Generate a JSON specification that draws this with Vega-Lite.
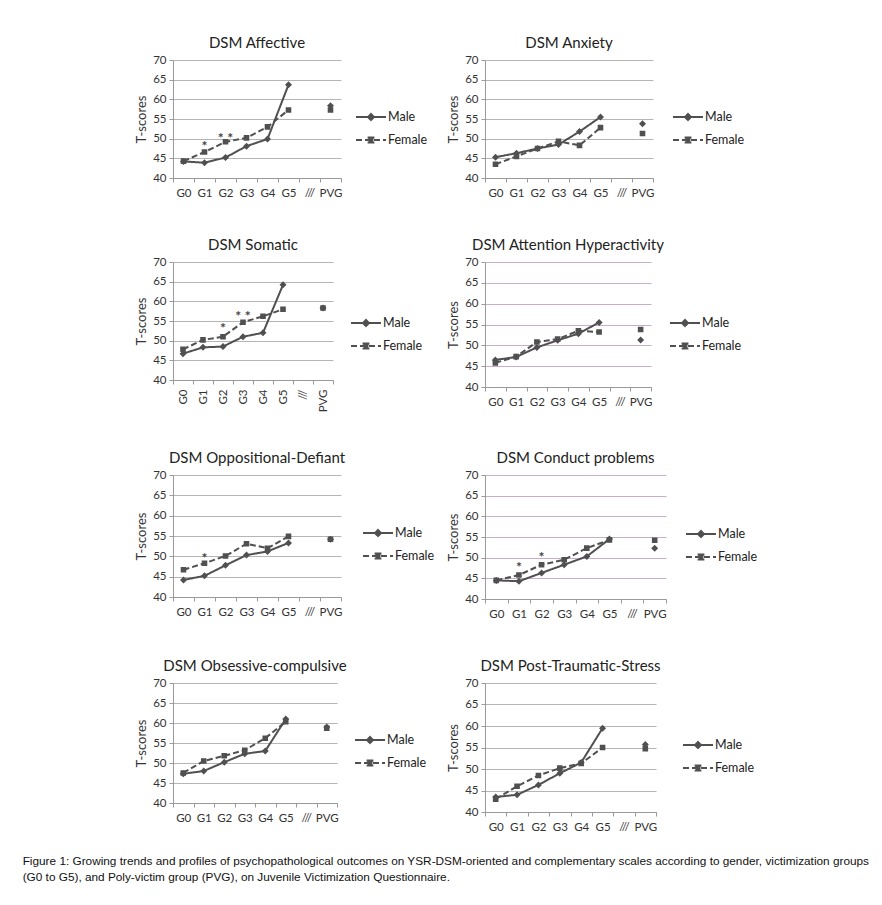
{
  "$schema": "https://vega.github.io/schema/vega-lite/v6.json",
  "background": "white",
  "padding": {"left": 22, "top": 36, "right": 4, "bottom": 4},
  "data": {"values": [
    {"s":"Affective","g":"G0","sex":"Male","v":44.2},{"s":"Affective","g":"G1","sex":"Male","v":43.9},{"s":"Affective","g":"G2","sex":"Male","v":45.2},{"s":"Affective","g":"G3","sex":"Male","v":48.1},{"s":"Affective","g":"G4","sex":"Male","v":49.9},{"s":"Affective","g":"G5","sex":"Male","v":63.7},{"s":"Affective","g":"PVG","sex":"Male","v":58.4},
    {"s":"Affective","g":"G0","sex":"Female","v":44.3},{"s":"Affective","g":"G1","sex":"Female","v":46.6},{"s":"Affective","g":"G2","sex":"Female","v":49.2},{"s":"Affective","g":"G3","sex":"Female","v":50.2},{"s":"Affective","g":"G4","sex":"Female","v":53.0},{"s":"Affective","g":"G5","sex":"Female","v":57.3},{"s":"Affective","g":"PVG","sex":"Female","v":57.3},
    {"s":"Affective","g":"G1","sig":"*","v":49.2},{"s":"Affective","g":"G2","sig":"* *","v":51.1},
    {"s":"Anxiety","g":"G0","sex":"Male","v":45.3},{"s":"Anxiety","g":"G1","sex":"Male","v":46.3},{"s":"Anxiety","g":"G2","sex":"Male","v":47.5},{"s":"Anxiety","g":"G3","sex":"Male","v":48.5},{"s":"Anxiety","g":"G4","sex":"Male","v":51.8},{"s":"Anxiety","g":"G5","sex":"Male","v":55.5},{"s":"Anxiety","g":"PVG","sex":"Male","v":53.8},
    {"s":"Anxiety","g":"G0","sex":"Female","v":43.5},{"s":"Anxiety","g":"G1","sex":"Female","v":45.5},{"s":"Anxiety","g":"G2","sex":"Female","v":47.5},{"s":"Anxiety","g":"G3","sex":"Female","v":49.3},{"s":"Anxiety","g":"G4","sex":"Female","v":48.3},{"s":"Anxiety","g":"G5","sex":"Female","v":52.8},{"s":"Anxiety","g":"PVG","sex":"Female","v":51.3},
    {"s":"Somatic","g":"G0","sex":"Male","v":46.7},{"s":"Somatic","g":"G1","sex":"Male","v":48.3},{"s":"Somatic","g":"G2","sex":"Male","v":48.5},{"s":"Somatic","g":"G3","sex":"Male","v":51.0},{"s":"Somatic","g":"G4","sex":"Male","v":52.0},{"s":"Somatic","g":"G5","sex":"Male","v":64.2},{"s":"Somatic","g":"PVG","sex":"Male","v":58.3},
    {"s":"Somatic","g":"G0","sex":"Female","v":47.8},{"s":"Somatic","g":"G1","sex":"Female","v":50.2},{"s":"Somatic","g":"G2","sex":"Female","v":51.0},{"s":"Somatic","g":"G3","sex":"Female","v":54.7},{"s":"Somatic","g":"G4","sex":"Female","v":56.2},{"s":"Somatic","g":"G5","sex":"Female","v":58.0},{"s":"Somatic","g":"PVG","sex":"Female","v":58.3},
    {"s":"Somatic","g":"G2","sig":"*","v":54.2},{"s":"Somatic","g":"G3","sig":"* *","v":57.2},
    {"s":"Attention","g":"G0","sex":"Male","v":46.5},{"s":"Attention","g":"G1","sex":"Male","v":47.2},{"s":"Attention","g":"G2","sex":"Male","v":49.5},{"s":"Attention","g":"G3","sex":"Male","v":51.2},{"s":"Attention","g":"G4","sex":"Male","v":52.8},{"s":"Attention","g":"G5","sex":"Male","v":55.5},{"s":"Attention","g":"PVG","sex":"Male","v":51.3},
    {"s":"Attention","g":"G0","sex":"Female","v":45.8},{"s":"Attention","g":"G1","sex":"Female","v":47.3},{"s":"Attention","g":"G2","sex":"Female","v":50.8},{"s":"Attention","g":"G3","sex":"Female","v":51.5},{"s":"Attention","g":"G4","sex":"Female","v":53.5},{"s":"Attention","g":"G5","sex":"Female","v":53.2},{"s":"Attention","g":"PVG","sex":"Female","v":53.8},
    {"s":"Oppositional","g":"G0","sex":"Male","v":44.2},{"s":"Oppositional","g":"G1","sex":"Male","v":45.2},{"s":"Oppositional","g":"G2","sex":"Male","v":47.8},{"s":"Oppositional","g":"G3","sex":"Male","v":50.3},{"s":"Oppositional","g":"G4","sex":"Male","v":51.2},{"s":"Oppositional","g":"G5","sex":"Male","v":53.3},{"s":"Oppositional","g":"PVG","sex":"Male","v":54.2},
    {"s":"Oppositional","g":"G0","sex":"Female","v":46.7},{"s":"Oppositional","g":"G1","sex":"Female","v":48.3},{"s":"Oppositional","g":"G2","sex":"Female","v":50.1},{"s":"Oppositional","g":"G3","sex":"Female","v":53.1},{"s":"Oppositional","g":"G4","sex":"Female","v":52.0},{"s":"Oppositional","g":"G5","sex":"Female","v":54.9},{"s":"Oppositional","g":"PVG","sex":"Female","v":54.2},
    {"s":"Oppositional","g":"G1","sig":"*","v":50.5},
    {"s":"Conduct","g":"G0","sex":"Male","v":44.5},{"s":"Conduct","g":"G1","sex":"Male","v":44.3},{"s":"Conduct","g":"G2","sex":"Male","v":46.3},{"s":"Conduct","g":"G3","sex":"Male","v":48.3},{"s":"Conduct","g":"G4","sex":"Male","v":50.3},{"s":"Conduct","g":"G5","sex":"Male","v":54.5},{"s":"Conduct","g":"PVG","sex":"Male","v":52.3},
    {"s":"Conduct","g":"G0","sex":"Female","v":44.5},{"s":"Conduct","g":"G1","sex":"Female","v":45.8},{"s":"Conduct","g":"G2","sex":"Female","v":48.3},{"s":"Conduct","g":"G3","sex":"Female","v":49.5},{"s":"Conduct","g":"G4","sex":"Female","v":52.3},{"s":"Conduct","g":"G5","sex":"Female","v":54.3},{"s":"Conduct","g":"PVG","sex":"Female","v":54.2},
    {"s":"Conduct","g":"G1","sig":"*","v":48.8},{"s":"Conduct","g":"G2","sig":"*","v":51.1},
    {"s":"Obsessive","g":"G0","sex":"Male","v":47.3},{"s":"Obsessive","g":"G1","sex":"Male","v":48.0},{"s":"Obsessive","g":"G2","sex":"Male","v":50.2},{"s":"Obsessive","g":"G3","sex":"Male","v":52.3},{"s":"Obsessive","g":"G4","sex":"Male","v":53.0},{"s":"Obsessive","g":"G5","sex":"Male","v":61.0},{"s":"Obsessive","g":"PVG","sex":"Male","v":59.0},
    {"s":"Obsessive","g":"G0","sex":"Female","v":47.5},{"s":"Obsessive","g":"G1","sex":"Female","v":50.5},{"s":"Obsessive","g":"G2","sex":"Female","v":51.8},{"s":"Obsessive","g":"G3","sex":"Female","v":53.2},{"s":"Obsessive","g":"G4","sex":"Female","v":56.2},{"s":"Obsessive","g":"G5","sex":"Female","v":60.3},{"s":"Obsessive","g":"PVG","sex":"Female","v":58.7},
    {"s":"PTSD","g":"G0","sex":"Male","v":43.5},{"s":"PTSD","g":"G1","sex":"Male","v":44.0},{"s":"PTSD","g":"G2","sex":"Male","v":46.3},{"s":"PTSD","g":"G3","sex":"Male","v":49.0},{"s":"PTSD","g":"G4","sex":"Male","v":51.5},{"s":"PTSD","g":"G5","sex":"Male","v":59.5},{"s":"PTSD","g":"PVG","sex":"Male","v":55.7},
    {"s":"PTSD","g":"G0","sex":"Female","v":43.0},{"s":"PTSD","g":"G1","sex":"Female","v":46.0},{"s":"PTSD","g":"G2","sex":"Female","v":48.5},{"s":"PTSD","g":"G3","sex":"Female","v":50.2},{"s":"PTSD","g":"G4","sex":"Female","v":51.3},{"s":"PTSD","g":"G5","sex":"Female","v":55.0},{"s":"PTSD","g":"PVG","sex":"Female","v":54.7}
  ]},
  "columns": 2,
  "spacing": {"row": 39, "column": 12},
  "resolve": {"scale": {"strokeDash": "independent", "shape": "independent"}, "legend": {"strokeDash": "independent", "shape": "independent"}},
  "title": {
    "text": ["Figure 1: Growing trends and profiles of psychopathological outcomes on YSR-DSM-oriented and complementary scales according to gender, victimization groups", "(G0 to G5), and Poly-victim group (PVG), on Juvenile Victimization Questionnaire."],
    "orient": "bottom", "anchor": "start", "frame": "bounds",
    "font": "Liberation Sans", "fontSize": 11.8, "fontWeight": "normal", "color": "#111", "lineHeight": 16, "dx": -113, "offset": 23
  },
  "concat": [
    {
      "title": "DSM Affective", "width": 168, "height": 118,
      "transform": [{"filter": "datum.s === 'Affective'"}],
      "encoding": {
        "x": {"field": "g", "type": "ordinal", "scale": {"type": "band", "domain": ["G0","G1","G2","G3","G4","G5","///","PVG"], "paddingInner": 0, "paddingOuter": 0}, "axis": {"title": null, "tickBand": "extent", "labelAngle": 0, "grid": false}},
        "y": {"field": "v", "type": "quantitative", "scale": {"domain": [40, 70], "nice": false, "zero": false}, "axis": {"title": "T-scores", "values": [40,45,50,55,60,65,70]}}
      },
      "layer": [
        {"transform": [{"filter": "datum.sex && datum.g !== 'PVG'"}], "mark": {"type": "line", "strokeWidth": 2, "color": "#505050"},
         "encoding": {"strokeDash": {"field": "sex", "type": "nominal", "scale": {"domain": ["Male","Female"], "range": [[1,0],[6,3]]}, "legend": {"orient": "none", "legendX": 182, "legendY": 41}}}},
        {"transform": [{"filter": "datum.sex"}], "mark": {"type": "point", "filled": true, "opacity": 1, "color": "#505050", "strokeWidth": 0, "size": 1225},
         "encoding": {"shape": {"field": "sex", "type": "nominal", "scale": {"domain": ["Male","Female"], "range": ["M-1,0H1M0,-0.2L0.2,0L0,0.2L-0.2,0Z", "M-1,0H1M-0.16,-0.16H0.16V0.16H-0.16Z"]}, "legend": null}}},
        {"transform": [{"filter": "datum.sig"}], "mark": {"type": "text", "fontSize": 14, "fontWeight": "bold", "color": "#444", "dy": 5},
         "encoding": {"text": {"field": "sig"}}}
      ]
    },
    {
      "title": "DSM Anxiety", "width": 168, "height": 118,
      "transform": [{"filter": "datum.s === 'Anxiety'"}],
      "encoding": {
        "x": {"field": "g", "type": "ordinal", "scale": {"type": "band", "domain": ["G0","G1","G2","G3","G4","G5","///","PVG"], "paddingInner": 0, "paddingOuter": 0}, "axis": {"title": null, "tickBand": "extent", "labelAngle": 0, "grid": false}},
        "y": {"field": "v", "type": "quantitative", "scale": {"domain": [40, 70], "nice": false, "zero": false}, "axis": {"title": "T-scores", "values": [40,45,50,55,60,65,70]}}
      },
      "layer": [
        {"transform": [{"filter": "datum.sex && datum.g !== 'PVG'"}], "mark": {"type": "line", "strokeWidth": 2, "color": "#505050"},
         "encoding": {"strokeDash": {"field": "sex", "type": "nominal", "scale": {"domain": ["Male","Female"], "range": [[1,0],[6,3]]}, "legend": {"orient": "none", "legendX": 187, "legendY": 41}}}},
        {"transform": [{"filter": "datum.sex"}], "mark": {"type": "point", "filled": true, "opacity": 1, "color": "#505050", "strokeWidth": 0, "size": 1225},
         "encoding": {"shape": {"field": "sex", "type": "nominal", "scale": {"domain": ["Male","Female"], "range": ["M-1,0H1M0,-0.2L0.2,0L0,0.2L-0.2,0Z", "M-1,0H1M-0.16,-0.16H0.16V0.16H-0.16Z"]}, "legend": null}}}
      ]
    },
    {
      "title": "DSM Somatic", "width": 160, "height": 118,
      "transform": [{"filter": "datum.s === 'Somatic'"}],
      "encoding": {
        "x": {"field": "g", "type": "ordinal", "scale": {"type": "band", "domain": ["G0","G1","G2","G3","G4","G5","///","PVG"], "paddingInner": 0, "paddingOuter": 0}, "axis": {"title": null, "tickBand": "extent", "labelAngle": 270, "grid": false}},
        "y": {"field": "v", "type": "quantitative", "scale": {"domain": [40, 70], "nice": false, "zero": false}, "axis": {"title": "T-scores", "values": [40,45,50,55,60,65,70]}}
      },
      "layer": [
        {"transform": [{"filter": "datum.sex && datum.g !== 'PVG'"}], "mark": {"type": "line", "strokeWidth": 2, "color": "#505050"},
         "encoding": {"strokeDash": {"field": "sex", "type": "nominal", "scale": {"domain": ["Male","Female"], "range": [[1,0],[6,3]]}, "legend": {"orient": "none", "legendX": 177, "legendY": 45}}}},
        {"transform": [{"filter": "datum.sex"}], "mark": {"type": "point", "filled": true, "opacity": 1, "color": "#505050", "strokeWidth": 0, "size": 1225},
         "encoding": {"shape": {"field": "sex", "type": "nominal", "scale": {"domain": ["Male","Female"], "range": ["M-1,0H1M0,-0.2L0.2,0L0,0.2L-0.2,0Z", "M-1,0H1M-0.16,-0.16H0.16V0.16H-0.16Z"]}, "legend": null}}},
        {"transform": [{"filter": "datum.sig"}], "mark": {"type": "text", "fontSize": 14, "fontWeight": "bold", "color": "#444", "dy": 5},
         "encoding": {"text": {"field": "sig"}}}
      ]
    },
    {
      "title": "DSM Attention Hyperactivity", "width": 166, "height": 125,
      "transform": [{"filter": "datum.s === 'Attention'"}],
      "encoding": {
        "x": {"field": "g", "type": "ordinal", "scale": {"type": "band", "domain": ["G0","G1","G2","G3","G4","G5","///","PVG"], "paddingInner": 0, "paddingOuter": 0}, "axis": {"title": null, "tickBand": "extent", "labelAngle": 0, "grid": false}},
        "y": {"field": "v", "type": "quantitative", "scale": {"domain": [40, 70], "nice": false, "zero": false}, "axis": {"title": "T-scores", "values": [40,45,50,55,60,65,70], "gridColor": "#c9aec9"}}
      },
      "layer": [
        {"transform": [{"filter": "datum.sex && datum.g !== 'PVG'"}], "mark": {"type": "line", "strokeWidth": 2, "color": "#505050"},
         "encoding": {"strokeDash": {"field": "sex", "type": "nominal", "scale": {"domain": ["Male","Female"], "range": [[1,0],[6,3]]}, "legend": {"orient": "none", "legendX": 184, "legendY": 45}}}},
        {"transform": [{"filter": "datum.sex"}], "mark": {"type": "point", "filled": true, "opacity": 1, "color": "#505050", "strokeWidth": 0, "size": 1225},
         "encoding": {"shape": {"field": "sex", "type": "nominal", "scale": {"domain": ["Male","Female"], "range": ["M-1,0H1M0,-0.2L0.2,0L0,0.2L-0.2,0Z", "M-1,0H1M-0.16,-0.16H0.16V0.16H-0.16Z"]}, "legend": null}}}
      ]
    },
    {
      "title": "DSM Oppositional-Defiant", "width": 168, "height": 122,
      "transform": [{"filter": "datum.s === 'Oppositional'"}],
      "encoding": {
        "x": {"field": "g", "type": "ordinal", "scale": {"type": "band", "domain": ["G0","G1","G2","G3","G4","G5","///","PVG"], "paddingInner": 0, "paddingOuter": 0}, "axis": {"title": null, "tickBand": "extent", "labelAngle": 0, "grid": false}},
        "y": {"field": "v", "type": "quantitative", "scale": {"domain": [40, 70], "nice": false, "zero": false}, "axis": {"title": "T-scores", "values": [40,45,50,55,60,65,70]}}
      },
      "layer": [
        {"transform": [{"filter": "datum.sex && datum.g !== 'PVG'"}], "mark": {"type": "line", "strokeWidth": 2, "color": "#505050"},
         "encoding": {"strokeDash": {"field": "sex", "type": "nominal", "scale": {"domain": ["Male","Female"], "range": [[1,0],[6,3]]}, "legend": {"orient": "none", "legendX": 189, "legendY": 42}}}},
        {"transform": [{"filter": "datum.sex"}], "mark": {"type": "point", "filled": true, "opacity": 1, "color": "#505050", "strokeWidth": 0, "size": 1225},
         "encoding": {"shape": {"field": "sex", "type": "nominal", "scale": {"domain": ["Male","Female"], "range": ["M-1,0H1M0,-0.2L0.2,0L0,0.2L-0.2,0Z", "M-1,0H1M-0.16,-0.16H0.16V0.16H-0.16Z"]}, "legend": null}}},
        {"transform": [{"filter": "datum.sig"}], "mark": {"type": "text", "fontSize": 14, "fontWeight": "bold", "color": "#444", "dy": 5},
         "encoding": {"text": {"field": "sig"}}}
      ]
    },
    {
      "title": "DSM Conduct problems", "width": 181, "height": 124,
      "transform": [{"filter": "datum.s === 'Conduct'"}],
      "encoding": {
        "x": {"field": "g", "type": "ordinal", "scale": {"type": "band", "domain": ["G0","G1","G2","G3","G4","G5","///","PVG"], "paddingInner": 0, "paddingOuter": 0}, "axis": {"title": null, "tickBand": "extent", "labelAngle": 0, "grid": false}},
        "y": {"field": "v", "type": "quantitative", "scale": {"domain": [40, 70], "nice": false, "zero": false}, "axis": {"title": "T-scores", "values": [40,45,50,55,60,65,70], "gridColor": "#c9aec9"}}
      },
      "layer": [
        {"transform": [{"filter": "datum.sex && datum.g !== 'PVG'"}], "mark": {"type": "line", "strokeWidth": 2, "color": "#505050"},
         "encoding": {"strokeDash": {"field": "sex", "type": "nominal", "scale": {"domain": ["Male","Female"], "range": [[1,0],[6,3]]}, "legend": {"orient": "none", "legendX": 200, "legendY": 43}}}},
        {"transform": [{"filter": "datum.sex"}], "mark": {"type": "point", "filled": true, "opacity": 1, "color": "#505050", "strokeWidth": 0, "size": 1225},
         "encoding": {"shape": {"field": "sex", "type": "nominal", "scale": {"domain": ["Male","Female"], "range": ["M-1,0H1M0,-0.2L0.2,0L0,0.2L-0.2,0Z", "M-1,0H1M-0.16,-0.16H0.16V0.16H-0.16Z"]}, "legend": null}}},
        {"transform": [{"filter": "datum.sig"}], "mark": {"type": "text", "fontSize": 14, "fontWeight": "bold", "color": "#444", "dy": 5},
         "encoding": {"text": {"field": "sig"}}}
      ]
    },
    {
      "title": "DSM Obsessive-compulsive", "width": 164, "height": 120,
      "transform": [{"filter": "datum.s === 'Obsessive'"}],
      "encoding": {
        "x": {"field": "g", "type": "ordinal", "scale": {"type": "band", "domain": ["G0","G1","G2","G3","G4","G5","///","PVG"], "paddingInner": 0, "paddingOuter": 0}, "axis": {"title": null, "tickBand": "extent", "labelAngle": 0, "grid": false}},
        "y": {"field": "v", "type": "quantitative", "scale": {"domain": [40, 70], "nice": false, "zero": false}, "axis": {"title": "T-scores", "values": [40,45,50,55,60,65,70]}}
      },
      "layer": [
        {"transform": [{"filter": "datum.sex && datum.g !== 'PVG'"}], "mark": {"type": "line", "strokeWidth": 2, "color": "#505050"},
         "encoding": {"strokeDash": {"field": "sex", "type": "nominal", "scale": {"domain": ["Male","Female"], "range": [[1,0],[6,3]]}, "legend": {"orient": "none", "legendX": 181, "legendY": 41}}}},
        {"transform": [{"filter": "datum.sex"}], "mark": {"type": "point", "filled": true, "opacity": 1, "color": "#505050", "strokeWidth": 0, "size": 1225},
         "encoding": {"shape": {"field": "sex", "type": "nominal", "scale": {"domain": ["Male","Female"], "range": ["M-1,0H1M0,-0.2L0.2,0L0,0.2L-0.2,0Z", "M-1,0H1M-0.16,-0.16H0.16V0.16H-0.16Z"]}, "legend": null}}}
      ]
    },
    {
      "title": "DSM Post-Traumatic-Stress", "width": 171, "height": 129,
      "transform": [{"filter": "datum.s === 'PTSD'"}],
      "encoding": {
        "x": {"field": "g", "type": "ordinal", "scale": {"type": "band", "domain": ["G0","G1","G2","G3","G4","G5","///","PVG"], "paddingInner": 0, "paddingOuter": 0}, "axis": {"title": null, "tickBand": "extent", "labelAngle": 0, "grid": false}},
        "y": {"field": "v", "type": "quantitative", "scale": {"domain": [40, 70], "nice": false, "zero": false}, "axis": {"title": "T-scores", "values": [40,45,50,55,60,65,70]}}
      },
      "layer": [
        {"transform": [{"filter": "datum.sex && datum.g !== 'PVG'"}], "mark": {"type": "line", "strokeWidth": 2, "color": "#505050"},
         "encoding": {"strokeDash": {"field": "sex", "type": "nominal", "scale": {"domain": ["Male","Female"], "range": [[1,0],[6,3]]}, "legend": {"orient": "none", "legendX": 197, "legendY": 46}}}},
        {"transform": [{"filter": "datum.sex"}], "mark": {"type": "point", "filled": true, "opacity": 1, "color": "#505050", "strokeWidth": 0, "size": 1225},
         "encoding": {"shape": {"field": "sex", "type": "nominal", "scale": {"domain": ["Male","Female"], "range": ["M-1,0H1M0,-0.2L0.2,0L0,0.2L-0.2,0Z", "M-1,0H1M-0.16,-0.16H0.16V0.16H-0.16Z"]}, "legend": null}}}
      ]
    }
  ],
  "config": {
    "view": {"stroke": null},
    "font": "Lato",
    "title": {"font": "Lato", "fontSize": 15, "fontWeight": "normal", "color": "#222", "offset": 3},
    "axis": {"labelFont": "Lato", "labelFontSize": 11.5, "labelColor": "#333", "titleFont": "Lato", "titleFontSize": 13, "titleFontWeight": "normal", "titleColor": "#333", "titlePadding": 4, "domainColor": "#9a9a9a", "tickColor": "#9a9a9a", "tickSize": 4, "gridColor": "#b5b5b5", "labelPadding": 3},
    "axisX": {"labelPadding": 5},
    "legend": {"title": null, "labelFont": "Lato", "labelFontSize": 12.5, "labelColor": "#222", "symbolSize": 900, "symbolStrokeColor": "#505050", "symbolFillColor": "#505050", "symbolStrokeWidth": 2, "labelOffset": 1, "rowPadding": 0}
  }
}
